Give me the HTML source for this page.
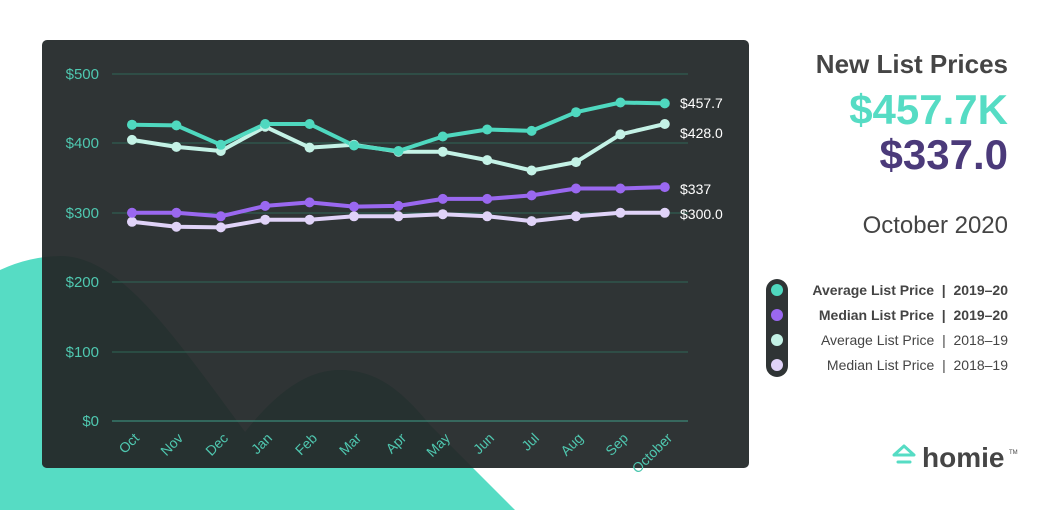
<!DOCTYPE html>
<html><head><meta charset="utf-8"><style>
body{margin:0;width:1060px;height:510px;overflow:hidden;background:#fff;font-family:"Liberation Sans",sans-serif;}
</style></head><body>
<svg width="1060" height="510" xmlns="http://www.w3.org/2000/svg" style="position:absolute;left:0;top:0">
<defs><clipPath id="pc"><rect x="42" y="40" width="707" height="428" rx="5"/></clipPath></defs>
<path d="M0,270 Q30,256 62,256 C120,258 170,330 245,432 C280,388 310,370 340,370 C380,370 405,395 430,425 L473,468 L515,510 L0,510 Z" fill="#56dcc4"/>
<rect x="42" y="40" width="707" height="428" rx="5" fill="#2f3435"/>
<g clip-path="url(#pc)">
<path d="M0,270 Q30,256 62,256 C120,258 170,330 245,432 C280,388 310,370 340,370 C380,370 405,395 430,425 L473,468 L515,510 L0,510 Z" fill="#263130"/>
</g>
<g stroke="#2f6656" stroke-width="1">
<line x1="112" y1="74" x2="688" y2="74"/><line x1="112" y1="143" x2="688" y2="143"/>
<line x1="112" y1="213" x2="688" y2="213"/><line x1="112" y1="282" x2="688" y2="282"/>
<line x1="112" y1="352" x2="688" y2="352"/><line x1="112" y1="421" x2="688" y2="421" stroke="#3f9d88"/>
</g>
<g fill="#4fc8b0" font-size="15" text-anchor="end">
<text x="99" y="79">$500</text><text x="99" y="148">$400</text><text x="99" y="218">$300</text>
<text x="99" y="287">$200</text><text x="99" y="357">$100</text><text x="99" y="426">$0</text>
</g>
<g fill="#4fc8b0" font-size="14" text-anchor="end">
<text transform="translate(140,439) rotate(-45)">Oct</text>
<text transform="translate(184,439) rotate(-45)">Nov</text>
<text transform="translate(229,439) rotate(-45)">Dec</text>
<text transform="translate(273,439) rotate(-45)">Jan</text>
<text transform="translate(318,439) rotate(-45)">Feb</text>
<text transform="translate(362,439) rotate(-45)">Mar</text>
<text transform="translate(407,439) rotate(-45)">Apr</text>
<text transform="translate(451,439) rotate(-45)">May</text>
<text transform="translate(495,439) rotate(-45)">Jun</text>
<text transform="translate(540,439) rotate(-45)">Jul</text>
<text transform="translate(584,439) rotate(-45)">Aug</text>
<text transform="translate(629,439) rotate(-45)">Sep</text>
<text transform="translate(673,439) rotate(-45)">October</text>
</g>
<g fill="none" stroke-width="4" stroke-linejoin="round">
<polyline stroke="#e0d3f8" points="132,221.8 176.4,226.7 220.8,227.4 265.2,219.7 309.6,219.7 354,216.3 398.4,216.3 442.8,214.2 487.2,216.3 531.6,221.1 576,216.3 620.4,212.8 664.8,212.8"/>
<polyline stroke="#9a68f0" points="132,212.8 176.4,212.8 220.8,216.3 265.2,205.9 309.6,202.4 354,206.6 398.4,205.9 442.8,198.9 487.2,198.9 531.6,195.4 576,188.5 620.4,188.5 664.8,187.1"/>
<polyline stroke="#c4f2e6" points="132,139.9 176.4,146.9 220.8,151 265.2,126.7 309.6,147.6 354,144.8 398.4,151.7 442.8,151.7 487.2,160.1 531.6,170.5 576,162.1 620.4,134.4 664.8,124"/>
<polyline stroke="#4fd8bf" points="132,124.7 176.4,125.4 220.8,144.8 265.2,124 309.6,124 354,145.5 398.4,151 442.8,136.5 487.2,129.5 531.6,130.9 576,112.2 620.4,102.5 664.8,103.4"/>
</g>
<g fill="#e0d3f8"><circle cx="132" cy="221.8" r="5"/><circle cx="176.4" cy="226.7" r="5"/><circle cx="220.8" cy="227.4" r="5"/><circle cx="265.2" cy="219.7" r="5"/><circle cx="309.6" cy="219.7" r="5"/><circle cx="354" cy="216.3" r="5"/><circle cx="398.4" cy="216.3" r="5"/><circle cx="442.8" cy="214.2" r="5"/><circle cx="487.2" cy="216.3" r="5"/><circle cx="531.6" cy="221.1" r="5"/><circle cx="576" cy="216.3" r="5"/><circle cx="620.4" cy="212.8" r="5"/><circle cx="664.8" cy="212.8" r="5"/></g>
<g fill="#9a68f0"><circle cx="132" cy="212.8" r="5"/><circle cx="176.4" cy="212.8" r="5"/><circle cx="220.8" cy="216.3" r="5"/><circle cx="265.2" cy="205.9" r="5"/><circle cx="309.6" cy="202.4" r="5"/><circle cx="354" cy="206.6" r="5"/><circle cx="398.4" cy="205.9" r="5"/><circle cx="442.8" cy="198.9" r="5"/><circle cx="487.2" cy="198.9" r="5"/><circle cx="531.6" cy="195.4" r="5"/><circle cx="576" cy="188.5" r="5"/><circle cx="620.4" cy="188.5" r="5"/><circle cx="664.8" cy="187.1" r="5"/></g>
<g fill="#c4f2e6"><circle cx="132" cy="139.9" r="5"/><circle cx="176.4" cy="146.9" r="5"/><circle cx="220.8" cy="151" r="5"/><circle cx="265.2" cy="126.7" r="5"/><circle cx="309.6" cy="147.6" r="5"/><circle cx="354" cy="144.8" r="5"/><circle cx="398.4" cy="151.7" r="5"/><circle cx="442.8" cy="151.7" r="5"/><circle cx="487.2" cy="160.1" r="5"/><circle cx="531.6" cy="170.5" r="5"/><circle cx="576" cy="162.1" r="5"/><circle cx="620.4" cy="134.4" r="5"/><circle cx="664.8" cy="124" r="5"/></g>
<g fill="#4fd8bf"><circle cx="132" cy="124.7" r="5"/><circle cx="176.4" cy="125.4" r="5"/><circle cx="220.8" cy="144.8" r="5"/><circle cx="265.2" cy="124" r="5"/><circle cx="309.6" cy="124" r="5"/><circle cx="354" cy="145.5" r="5"/><circle cx="398.4" cy="151" r="5"/><circle cx="442.8" cy="136.5" r="5"/><circle cx="487.2" cy="129.5" r="5"/><circle cx="531.6" cy="130.9" r="5"/><circle cx="576" cy="112.2" r="5"/><circle cx="620.4" cy="102.5" r="5"/><circle cx="664.8" cy="103.4" r="5"/></g>
<g fill="#fff" font-size="14">
<text x="680" y="108">$457.7</text><text x="680" y="138">$428.0</text>
<text x="680" y="194">$337</text><text x="680" y="219">$300.0</text>
</g>
<g text-anchor="end" font-weight="bold">
<text x="1008" y="73" font-size="26" fill="#454545">New List Prices</text>
<text x="1008" y="124" font-size="42" fill="#56dcc4">$457.7K</text>
<text x="1008" y="169" font-size="42" fill="#4b3a7a">$337.0</text>
</g>
<text x="1008" y="233" font-size="24" fill="#444" text-anchor="end">October 2020</text>
<rect x="766" y="279" width="22" height="98" rx="11" fill="#2f3435"/>
<circle cx="777" cy="290" r="6" fill="#4fd8bf"/><circle cx="777" cy="315" r="6" fill="#9a68f0"/>
<circle cx="777" cy="340" r="6" fill="#c4f2e6"/><circle cx="777" cy="365" r="6" fill="#e0d3f8"/>
<g text-anchor="end" font-size="14" fill="#444">
<text x="1008" y="295" font-weight="bold">Average List Price &#160;|&#160; 2019–20</text>
<text x="1008" y="320" font-weight="bold">Median List Price &#160;|&#160; 2019–20</text>
<text x="1008" y="345">Average List Price &#160;|&#160; 2018–19</text>
<text x="1008" y="370">Median List Price &#160;|&#160; 2018–19</text>
</g>
<path d="M894,455 L904,446 L914,455 Z" fill="none" stroke="#56dcc4" stroke-width="3" stroke-linejoin="round"/>
<line x1="898" y1="462" x2="910" y2="462" stroke="#56dcc4" stroke-width="3" stroke-linecap="round"/>
<text x="922" y="467" font-size="28" font-weight="bold" fill="#454545">homie</text>
<text x="1009" y="454" font-size="6" fill="#454545">TM</text>
</svg>
</body></html>
